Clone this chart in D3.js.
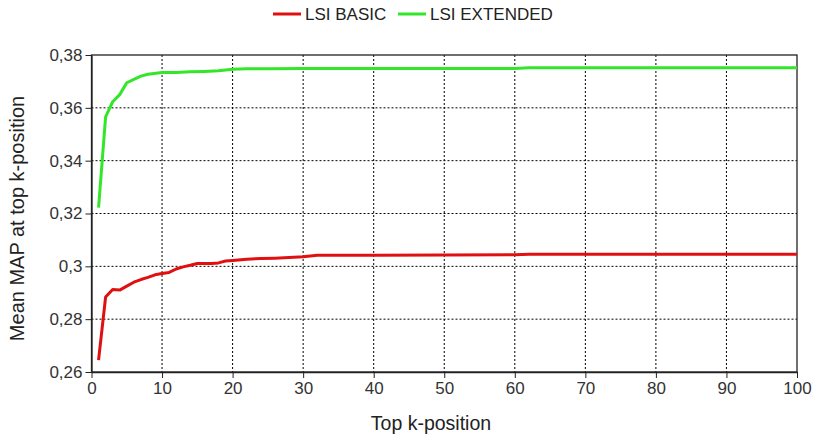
<!DOCTYPE html>
<html><head><meta charset="utf-8">
<script src="https://cdn.jsdelivr.net/npm/d3@7"></script>
<style>body{margin:0;background:#fff;}svg{display:block;font-family:"Liberation Sans",Arial,sans-serif;}</style>
</head><body><svg id="c" width="816" height="442"></svg>
<script>
const xTicks = [0,10,20,30,40,50,60,70,80,90,100];
const yTicks = [0.26,0.28,0.30,0.32,0.34,0.36,0.38];
const seriesNames = ["LSI BASIC","LSI EXTENDED"];
const basicK =   [1,2,3,4,5,6,7,8,9,10,11,12,13,14,15,16,17,18,19,20,22,24,26,28,30,32,40,50,60,62,70,80,90,100];
const basicV =   [0.2645,0.2884,0.2912,0.2910,0.2925,0.2940,0.2950,0.2958,0.2968,0.2973,0.2977,0.2990,0.2998,0.3004,0.3011,0.3011,0.3011,0.3013,0.3020,0.3022,0.3027,0.3030,0.3031,0.3033,0.3036,0.3042,0.3042,0.3043,0.3044,0.3046,0.3046,0.3046,0.3046,0.3046];
const extK =     [1,2,3,4,5,6,7,8,10,12,14,16,18,20,22,25,30,40,50,60,62,70,80,90,100];
const extV =     [0.3222,0.3566,0.3623,0.3650,0.3695,0.3708,0.3720,0.3727,0.3734,0.3734,0.3737,0.3738,0.3740,0.3746,0.3748,0.3748,0.3749,0.3749,0.3749,0.3749,0.3752,0.3752,0.3752,0.3752,0.3752];
const colors = ["#e01010","#33e62a"];

const svg = d3.select("#c");
const m = {l:91.5, r:797, t:55, b:372};
const x = d3.scaleLinear().domain([0,100]).range([m.l,m.r]);
const y = d3.scaleLinear().domain([0.26,0.38]).range([m.b,m.t]);
const fmt = d => d3.format(".2~f")(d).replace(".",",");

// grid
const g = svg.append("g");
g.selectAll(".gx").data(xTicks.slice(1,-1)).join("line")
  .attr("x1",d=>x(d)).attr("x2",d=>x(d)).attr("y1",m.t).attr("y2",m.b)
  .attr("stroke","#000").attr("stroke-width",1).attr("stroke-dasharray","2,2");
g.selectAll(".gy").data(yTicks.slice(1,-1)).join("line")
  .attr("y1",d=>y(d)).attr("y2",d=>y(d)).attr("x1",m.l).attr("x2",m.r)
  .attr("stroke","#000").attr("stroke-width",1).attr("stroke-dasharray","2,2");

// frame
svg.append("rect").attr("x",m.l).attr("y",m.t).attr("width",m.r-m.l).attr("height",m.b-m.t)
  .attr("fill","none").attr("stroke","#222").attr("stroke-width",1.3);

// axes
const xa = svg.append("g").attr("transform",`translate(0,${m.b})`)
  .call(d3.axisBottom(x).tickValues(xTicks).tickSize(6).tickSizeOuter(0).tickPadding(4));
const ya = svg.append("g").attr("transform",`translate(${m.l},0)`)
  .call(d3.axisLeft(y).tickValues(yTicks).tickFormat(fmt).tickSize(6).tickSizeOuter(0).tickPadding(3));
[xa,ya].forEach(a=>{
  a.select(".domain").attr("stroke","#222").attr("stroke-width",1.3);
  a.selectAll(".tick line").attr("stroke","#222");
  a.selectAll("text").attr("font-size",17).attr("fill","#333").attr("font-family","Liberation Sans, Arial, sans-serif");
});

// lines
const line = d3.line().x(d=>x(d[0])).y(d=>y(d[1]));
const data = [d3.zip(basicK,basicV), d3.zip(extK,extV)];
svg.selectAll(".ser").data(data).join("path")
  .attr("d",line).attr("fill","none").attr("stroke",(d,i)=>colors[i])
  .attr("stroke-width",3).attr("stroke-linejoin","round");

// axis titles
svg.append("text").attr("x",431).attr("y",430).attr("text-anchor","middle")
  .attr("font-size",19.5).attr("fill","#222").text("Top k-position");
svg.append("text").attr("transform",`translate(24,${(m.t+m.b)/2+5}) rotate(-90)`).attr("text-anchor","middle")
  .attr("font-size",20).attr("fill","#222").text("Mean MAP at top k-position");

// legend
const legX = [273,398];
seriesNames.forEach((n,i)=>{
  svg.append("line").attr("x1",legX[i]).attr("x2",legX[i]+28).attr("y1",14).attr("y2",14)
    .attr("stroke",colors[i]).attr("stroke-width",3);
  svg.append("text").attr("x",legX[i]+32).attr("y",20).attr("font-size",17).attr("fill","#222").text(n);
});
</script></body></html>
